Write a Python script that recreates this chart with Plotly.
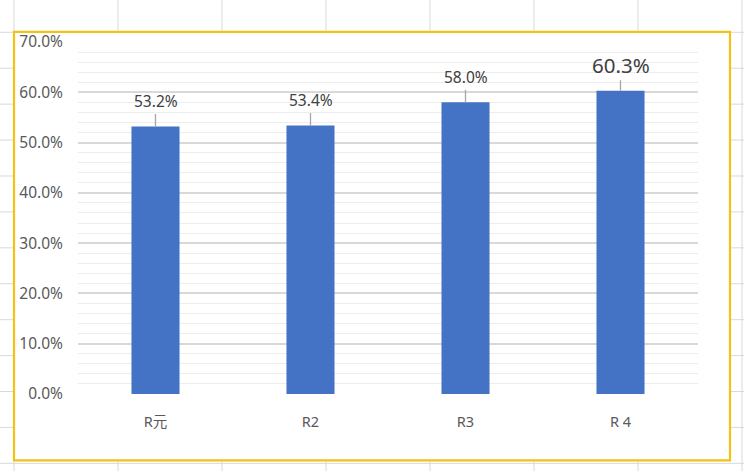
import plotly.graph_objects as go

categories = ["R元", "R2", "R3", "R 4"]
values = [0.532, 0.534, 0.580, 0.603]
label_sizes = [15.5, 15.5, 15.5, 20.5]
label_offsets = [-25, -25, -25, -26]

W, H = 744, 471
L, R, T, B = 78, 698, 41.7, 394.5

def px(xp):
    return (xp - L) / (R - L)

def py(yp):
    return (B - yp) / (B - T)

fig = go.Figure()
fig.add_trace(go.Bar(
    x=categories, y=values, marker=dict(color="#4472C4", line=dict(width=0)),
    hoverinfo="skip",
))

for c, v, s, o in zip(categories, values, label_sizes, label_offsets):
    fig.add_annotation(
        x=c, y=v, text=f"{v*100:.1f}%", showarrow=True, arrowhead=0,
        arrowwidth=1.3, arrowcolor="#A6A6A6", ax=0, ay=o, standoff=0,
        font=dict(size=s, color="#404040", family="Noto Sans, Liberation Sans, sans-serif"),
    )

shapes = []
# spreadsheet cell grid
for xv in [14, 118, 222, 326, 430, 534, 638, 742]:
    shapes.append(dict(type="line", xref="paper", yref="paper", x0=px(xv), x1=px(xv),
                       y0=py(-5), y1=py(H + 5), line=dict(color="#D9D9D9", width=1), layer="below"))
for yv in range(32, 480, 36):
    shapes.append(dict(type="line", xref="paper", yref="paper", x0=px(-5), x1=px(W + 5),
                       y0=py(yv), y1=py(yv), line=dict(color="#D9D9D9", width=1), layer="below"))
# chart area with yellow border
shapes.append(dict(type="rect", xref="paper", yref="paper", x0=px(14), x1=px(730),
                   y0=py(461), y1=py(31.5), fillcolor="white",
                   line=dict(color="#F2C314", width=2.2), layer="below"))

fig.update_layout(
    width=W, height=H,
    margin=dict(l=L, r=W - R, t=T, b=H - B),
    paper_bgcolor="white", plot_bgcolor="rgba(0,0,0,0)",
    bargap=0.69, showlegend=False, shapes=shapes,
    font=dict(family="Noto Sans, Noto Sans CJK JP, sans-serif", color="#595959", size=13),
)
fig.update_yaxes(
    range=[0, 0.7], dtick=0.1, tickformat=".1%", showgrid=True,
    gridcolor="#D9D9D9", gridwidth=1.6, zeroline=False, showline=False,
    ticks="", ticklabelstandoff=14,
    minor=dict(dtick=0.02, showgrid=True, gridcolor="#EDEDED", gridwidth=1.3),
    tickfont=dict(size=15.5, color="#595959"),
)
fig.update_xaxes(
    showgrid=False, showline=False, zeroline=False, ticks="",
    ticklabelstandoff=17, tickfont=dict(size=14.5, color="#595959"),
)

fig.write_html(
    "out.html",
    config={"displayModeBar": False},
    post_script="document.body.style.margin='0';document.body.style.overflow='hidden';",
)
